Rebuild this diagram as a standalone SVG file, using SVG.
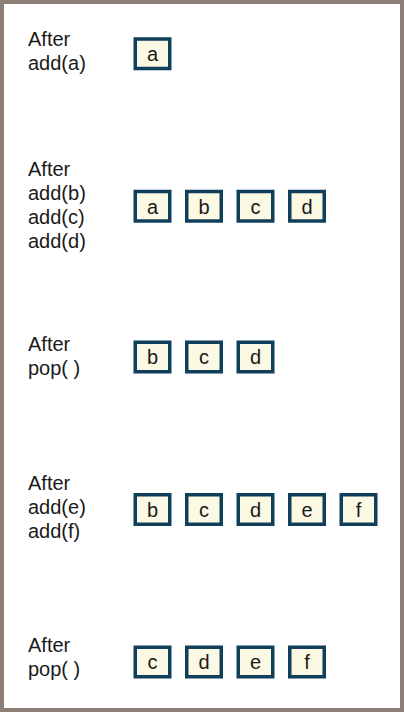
<svg xmlns="http://www.w3.org/2000/svg" width="404" height="712" viewBox="0 0 404 712">
<style>
.lbl{font-family:"Liberation Sans",Arial,sans-serif;font-size:20px;fill:#1a1a1a}
.box rect{fill:#fbf9e3;stroke:#0f3f5b;stroke-width:3.5}
.box text{font-family:"Liberation Sans",Arial,sans-serif;font-size:20px;fill:#1a1a1a;text-anchor:middle}
</style>
<rect x="0" y="0" width="404" height="712" fill="#ffffff"/>
<rect x="2" y="2" width="400" height="708" fill="none" stroke="#8e8079" stroke-width="4"/>
<g id="labels">
<text class="lbl" x="28" y="45.5">After</text>
<text class="lbl" x="28" y="69.5">add(a)</text>
<text class="lbl" x="28" y="176">After</text>
<text class="lbl" x="28" y="200">add(b)</text>
<text class="lbl" x="28" y="224">add(c)</text>
<text class="lbl" x="28" y="248">add(d)</text>
<text class="lbl" x="28" y="351">After</text>
<text class="lbl" x="28" y="375">pop( )</text>
<text class="lbl" x="28" y="490">After</text>
<text class="lbl" x="28" y="514">add(e)</text>
<text class="lbl" x="28" y="538">add(f)</text>
<text class="lbl" x="28" y="652">After</text>
<text class="lbl" x="28" y="676">pop( )</text>
</g>
<g id="row1">
<g id="r1a" class="box"><rect x="135.25" y="39" width="34.5" height="29.5"/><text x="152.5" y="61">a</text></g>
</g>
<g id="row2">
<g id="r2a" class="box"><rect x="135.25" y="191.5" width="34.5" height="29.5"/><text x="152.5" y="213.5">a</text></g>
<g id="r2b" class="box"><rect x="186.75" y="191.5" width="34.5" height="29.5"/><text x="204" y="213.5">b</text></g>
<g id="r2c" class="box"><rect x="238.25" y="191.5" width="34.5" height="29.5"/><text x="255.5" y="213.5">c</text></g>
<g id="r2d" class="box"><rect x="289.75" y="191.5" width="34.5" height="29.5"/><text x="307" y="213.5">d</text></g>
</g>
<g id="row3">
<g id="r3b" class="box"><rect x="135.25" y="342.25" width="34.5" height="29.5"/><text x="152.5" y="364">b</text></g>
<g id="r3c" class="box"><rect x="186.75" y="342.25" width="34.5" height="29.5"/><text x="204" y="364">c</text></g>
<g id="r3d" class="box"><rect x="238.25" y="342.25" width="34.5" height="29.5"/><text x="255.5" y="364">d</text></g>
</g>
<g id="row4">
<g id="r4b" class="box"><rect x="135.25" y="494.75" width="34.5" height="29.5"/><text x="152.5" y="516.5">b</text></g>
<g id="r4c" class="box"><rect x="186.75" y="494.75" width="34.5" height="29.5"/><text x="204" y="516.5">c</text></g>
<g id="r4d" class="box"><rect x="238.25" y="494.75" width="34.5" height="29.5"/><text x="255.5" y="516.5">d</text></g>
<g id="r4e" class="box"><rect x="289.75" y="494.75" width="34.5" height="29.5"/><text x="307" y="516.5">e</text></g>
<g id="r4f" class="box"><rect x="341.25" y="494.75" width="34.5" height="29.5"/><text x="358.5" y="516.5">f</text></g>
</g>
<g id="row5">
<g id="r5c" class="box"><rect x="135.25" y="647.25" width="34.5" height="29.5"/><text x="152.5" y="669">c</text></g>
<g id="r5d" class="box"><rect x="186.75" y="647.25" width="34.5" height="29.5"/><text x="204" y="669">d</text></g>
<g id="r5e" class="box"><rect x="238.25" y="647.25" width="34.5" height="29.5"/><text x="255.5" y="669">e</text></g>
<g id="r5f" class="box"><rect x="289.75" y="647.25" width="34.5" height="29.5"/><text x="307" y="669">f</text></g>
</g>
<g id="connectors"/>
</svg>
